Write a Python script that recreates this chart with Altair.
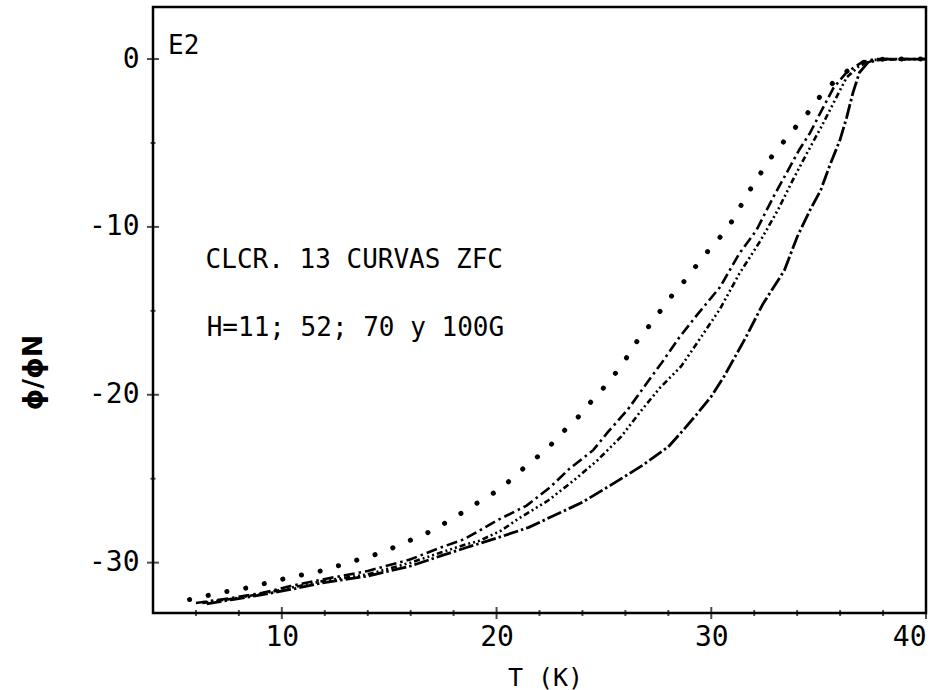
import altair as alt
import pandas as pd

# ---- data ----
A_T = [5.7, 7.1, 8.4, 10.3, 11.8, 12.6, 14.4, 15.4, 16.1, 17.0, 18.3, 19.4, 20.2, 20.8,
       21.5, 22.3, 23.1, 23.9, 24.6, 25.2, 25.9, 26.6, 27.3, 27.9, 28.9, 29.6, 30.3,
       31.0, 31.7, 32.7, 33.7, 34.5, 35.2, 36.0, 36.7, 37.4, 38.2, 40.0]
A_phi = [-32.2, -31.8, -31.5, -30.9, -30.5, -30.2, -29.5, -29.0, -28.6, -28.1, -27.1, -26.2,
         -25.6, -24.9, -24.1, -23.3, -22.2, -21.2, -20.1, -19.3, -18.1, -16.7, -15.6, -14.5,
         -13.0, -11.8, -10.8, -9.6, -8.0, -6.0, -4.4, -3.2, -2.0, -1.0, -0.4, -0.05, 0.0, 0.0]

B_T = [6.0, 7.7, 9.1, 10.4, 11.9, 14.0, 16.0, 17.4, 18.5, 20.0, 21.4, 22.5, 23.4, 24.5,
       25.2, 26.1, 27.0, 27.8, 28.5, 29.3, 30.4, 31.3, 32.1, 32.9, 33.5, 34.1, 34.6,
       35.0, 35.7, 36.3, 37.0, 37.6, 40.0]
B_phi = [-32.4, -32.1, -31.8, -31.4, -31.0, -30.5, -29.8, -29.1, -28.6, -27.5, -26.6, -25.5,
         -24.4, -23.3, -22.2, -20.9, -19.3, -17.9, -16.6, -15.3, -13.6, -11.6, -10.2, -8.2,
         -6.8, -5.4, -4.4, -3.4, -1.7, -0.8, -0.2, 0.0, 0.0]

C_T = [6.3, 7.7, 9.1, 10.4, 11.9, 14.0, 16.0, 17.4, 18.6, 19.2, 20.2, 21.0, 22.4, 23.6,
       24.7, 25.8, 26.7, 27.6, 28.6, 29.4, 30.4, 31.3, 32.3, 33.1, 33.8, 34.5, 35.1,
       35.7, 36.3, 36.9, 37.6, 40.0]
C_phi = [-32.4, -32.15, -31.85, -31.5, -31.1, -30.7, -30.0, -29.4, -28.9, -28.7, -28.1, -27.4,
         -26.3, -25.1, -23.9, -22.5, -21.0, -19.6, -18.3, -16.8, -14.9, -12.8, -10.8, -9.0,
         -7.2, -5.5, -4.1, -2.6, -1.1, -0.4, -0.05, 0.0]

D_T = [6.5, 7.7, 9.1, 10.4, 11.9, 14.0, 16.0, 17.4, 18.6, 20.1, 21.5, 22.5, 24.0, 25.3,
       26.8, 28.0, 28.7, 29.3, 30.0, 30.6, 31.6, 32.4, 33.4, 34.0, 34.6, 35.1, 35.5, 36.0,
       36.3, 36.6, 36.9, 37.3, 38.0, 40.0]
D_phi = [-32.45, -32.2, -31.9, -31.6, -31.2, -30.8, -30.2, -29.6, -29.1, -28.5, -27.9, -27.3,
         -26.4, -25.4, -24.2, -23.1, -22.1, -21.2, -20.1, -18.9, -16.6, -14.6, -12.6, -10.6,
         -9.0, -7.8, -6.4, -4.8, -3.5, -2.0, -0.8, -0.2, 0.0, 0.0]

x_major = [10, 20, 30, 40]
x_minor = [6, 8, 12, 14, 16, 18, 22, 24, 26, 28, 32, 34, 36, 38]
y_major = [0, -10, -20, -30]
y_minor = [-5, -15, -25]

notes = ["E2", "CLCR. 13 CURVAS ZFC", "H=11; 52; 70 y 100G"]
notes_T = [4.7, 6.45, 6.5]
notes_phi = [0.8, -12.0, -16.0]

XDOM = [4, 40]
YDOM = [-33.0, 3.1]
W, H = 773, 606

xs = alt.Scale(domain=XDOM, nice=False, zero=False)
ys = alt.Scale(domain=YDOM, nice=False, zero=False)


def curve(T, P, dash, width=2.6, cap="butt"):
    df = pd.DataFrame({"T": T, "phi": P})
    return alt.Chart(df).mark_line(
        color="black", strokeDash=dash, strokeWidth=width, strokeCap=cap, clip=True
    ).encode(
        x=alt.X("T:Q", scale=xs, axis=alt.Axis(
            values=x_major, title="T  (K)", labelFontSize=28, labelPadding=10,
            titleFontSize=25, titleFontWeight="normal", titleX=392, titleY=64,
            titleBaseline="middle", titleAlign="center")),
        y=alt.Y("phi:Q", scale=ys, axis=alt.Axis(
            values=y_major, title="\u03d5/\u03d5N", labelFontSize=28, labelPadding=14,
            labelExpr="'' + datum.value",
            titleFontSize=27, titleFontWeight="bold", titleX=-120, titleY=365,
            titleAngle=270, titleAlign="center", titleBaseline="middle",
            titleFont="DejaVu Sans")),
    )


lineA = curve(A_T, A_phi, [0.1, 19], width=5, cap="round")
lineB = curve(B_T, B_phi, [11, 4, 2.5, 4])
lineC = curve(C_T, C_phi, [6, 3, 2, 3, 2, 3, 2, 3])
lineD = curve(D_T, D_phi, [15, 3, 2.5, 3], width=2.8)

xmaj = alt.Chart(pd.DataFrame({"T": x_major})).mark_tick(
    orient="vertical", size=12, thickness=2, color="black"
).encode(x=alt.X("T:Q", scale=xs), y=alt.value(H))
xmin = alt.Chart(pd.DataFrame({"T": x_minor})).mark_tick(
    orient="vertical", size=6, thickness=2, color="black"
).encode(x=alt.X("T:Q", scale=xs), y=alt.value(H))
ymaj = alt.Chart(pd.DataFrame({"phi": y_major})).mark_tick(
    orient="horizontal", size=12, thickness=2, color="black"
).encode(y=alt.Y("phi:Q", scale=ys), x=alt.value(0))
ymin = alt.Chart(pd.DataFrame({"phi": y_minor})).mark_tick(
    orient="horizontal", size=5, thickness=2, color="black"
).encode(y=alt.Y("phi:Q", scale=ys), x=alt.value(0))

txt = alt.Chart(pd.DataFrame({"label": notes, "T": notes_T, "phi": notes_phi})).mark_text(
    align="left", baseline="middle", fontSize=26, font="DejaVu Sans Mono", color="black"
).encode(x=alt.X("T:Q", scale=xs), y=alt.Y("phi:Q", scale=ys), text="label:N")

chart = alt.layer(lineA, lineB, lineC, lineD, xmaj, xmin, ymaj, ymin, txt).properties(
    width=W, height=H,
    autosize=alt.AutoSizeParams(type="none"),
    padding={"left": 153, "top": 7, "right": 23, "bottom": 77},
    background="white",
).configure_view(
    stroke="black", strokeWidth=2.5
).configure_axis(
    domain=False, ticks=False, grid=False,
    labelFont="DejaVu Sans Mono", titleFont="DejaVu Sans Mono",
    labelColor="black", titleColor="black",
)

chart.save("out.html", embed_options={"renderer": "svg", "actions": False})
